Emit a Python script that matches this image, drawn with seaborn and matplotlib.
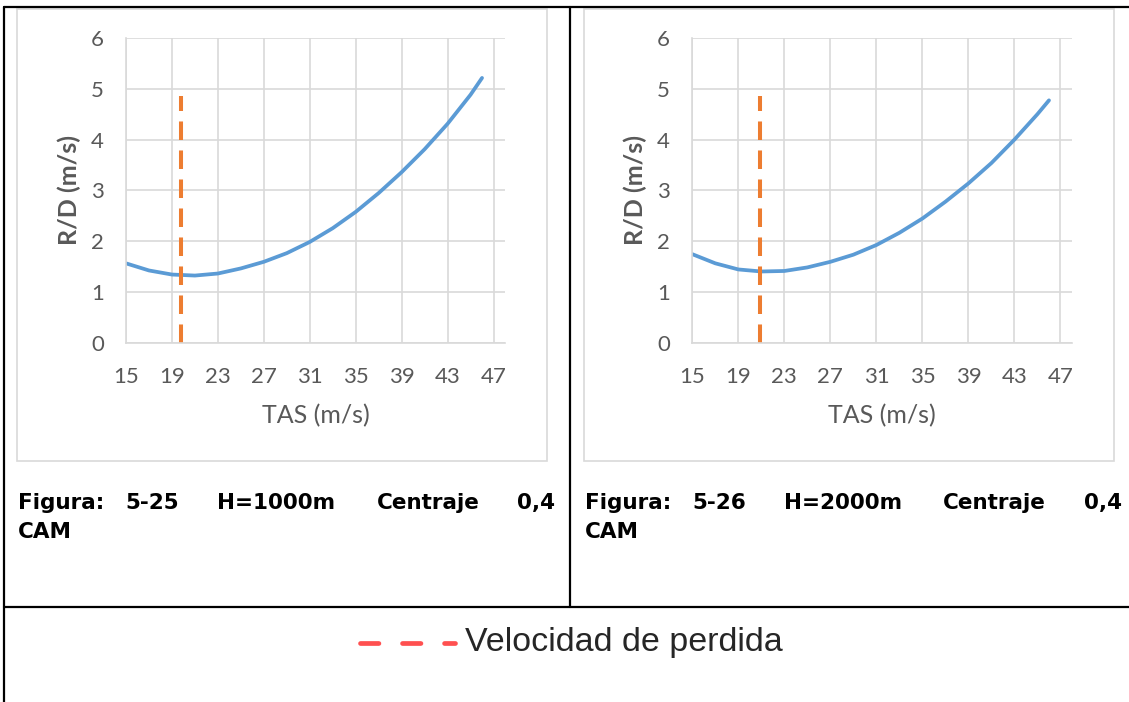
import matplotlib
matplotlib.use("Agg")
import matplotlib.pyplot as plt
import seaborn as sns
import pandas as pd
from matplotlib.lines import Line2D
from matplotlib.patches import Rectangle

# ----- Datos -----
TAS = [15, 17, 19, 21, 23, 25, 27, 29, 31, 33, 35, 37, 39, 41, 43, 45, 46]
RD_1000 = [1.57, 1.43, 1.35, 1.33, 1.37, 1.47, 1.60, 1.77, 1.99, 2.26,
           2.58, 2.95, 3.36, 3.81, 4.31, 4.88, 5.21]
RD_2000 = [1.75, 1.57, 1.45, 1.41, 1.42, 1.49, 1.60, 1.74, 1.93, 2.17,
           2.45, 2.78, 3.14, 3.54, 4.00, 4.50, 4.77]
V_PERDIDA = [19.8, 20.9]        # velocidad de perdida (m/s)
PERDIDA_Y = [0, 4.85]            # extension de la linea vertical
X_TICKS = [15, 19, 23, 27, 31, 35, 39, 43, 47]
Y_TICKS = [0, 1, 2, 3, 4, 5, 6]

CAPTIONS = [["Figura:", "5-25", "H=1000m", "Centraje", "0,4"],
            ["Figura:", "5-26", "H=2000m", "Centraje", "0,4"]]
LEGEND_TEXT = "Velocidad de perdida"

W, H = 1129, 702
AZUL = "#5B9BD5"
NARANJA = "#ED7D31"
GRIS_TXT = "#595959"
GRIS_GRID = "#D9D9D9"

sns.set_theme(style="whitegrid")
plt.rcParams["font.family"] = ["Lato", "DejaVu Sans"]

fig = plt.figure(figsize=(W / 100, H / 100), dpi=100)


def fx(x):
    return x / W


def fy(y):
    return 1 - y / H


def dibujar_grafico(x0, x1, datos, v_perdida):
    """Crea un eje en coordenadas de pixel (x0..x1) y dibuja la curva."""
    top, bottom = 37.7, 343.3
    ax = fig.add_axes([fx(x0), fy(bottom), (x1 - x0) / W, (bottom - top) / H])
    df = pd.DataFrame({"TAS": TAS, "RD": datos})
    sns.lineplot(data=df, x="TAS", y="RD", ax=ax, color=AZUL, linewidth=2.7)
    sns.lineplot(x=[v_perdida, v_perdida], y=PERDIDA_Y, ax=ax, color=NARANJA,
                 estimator=None, sort=False, linewidth=2.9,
                 linestyle=(0, (4.6, 2.6)))
    ax.set_xlim(15, 48)
    ax.set_ylim(0, 6)
    ax.set_xticks(X_TICKS)
    ax.set_yticks(Y_TICKS)
    ax.grid(True, color=GRIS_GRID, linewidth=1.2)
    for lado in ["top", "right"]:
        ax.spines[lado].set_visible(False)
    for lado in ["left", "bottom"]:
        ax.spines[lado].set_color(GRIS_GRID)
        ax.spines[lado].set_linewidth(1.2)
    ax.tick_params(axis="both", length=0, labelsize=16, labelcolor=GRIS_TXT)
    ax.tick_params(axis="x", pad=17)
    ax.tick_params(axis="y", pad=16)
    ax.set_xlabel("TAS (m/s)", fontsize=18, color=GRIS_TXT, labelpad=12)
    ax.set_ylabel("R/D (m/s)", fontsize=18, color=GRIS_TXT, fontweight="bold",
                  labelpad=7)
    ax.set_facecolor("white")
    return ax


dibujar_grafico(126, 505, RD_1000, V_PERDIDA[0])
dibujar_grafico(692.3, 1072, RD_2000, V_PERDIDA[1])

# marcos grises de los graficos
for (a, b) in [(17.3, 547), (584, 1113.5)]:
    fig.add_artist(Rectangle((fx(a), fy(461)), (b - a) / W, (461 - 9) / H,
                             transform=fig.transFigure, fill=False,
                             edgecolor=GRIS_GRID, linewidth=1.2))

# lineas de la tabla
lineas = [((4, 7), (1129, 7)), ((4, 7), (4, 702)),
          ((569.5, 7), (569.5, 606.5)), ((4, 606.5), (1129, 606.5))]
for (p0, p1) in lineas:
    fig.add_artist(Line2D([fx(p0[0]), fx(p1[0])], [fy(p0[1]), fy(p1[1])],
                          transform=fig.transFigure, color="black",
                          linewidth=1.6))

# pies de figura (texto justificado)
posiciones = [[18, 125, 217, 377, 555], [585, 692, 784, 943, 1122]]
for palabras, xs in zip(CAPTIONS, posiciones):
    for i, (p, x) in enumerate(zip(palabras, xs)):
        fig.text(fx(x), fy(503), p, ha="right" if i == len(palabras) - 1 else "left",
                 va="center", fontsize=15.5, fontweight="bold", color="black",
                 family=["DejaVu Sans"])
    fig.text(fx(xs[0]), fy(532), "CAM", ha="left", va="center", fontsize=15.5,
             fontweight="bold", color="black", family=["DejaVu Sans"])

# leyenda
fig.add_artist(Line2D([fx(359.5), fx(455)], [fy(643.3), fy(643.3)],
                      transform=fig.transFigure, color="#FF5050",
                      linewidth=3.4, dashes=(3.9, 5.0), solid_capstyle="round",
                      dash_capstyle="round"))
fig.text(fx(465), fy(643), LEGEND_TEXT, ha="left", va="center", fontsize=24.5,
         color="#262626", family=["Liberation Sans", "DejaVu Sans"])

fig.savefig("out.png", dpi=100, facecolor="white")
